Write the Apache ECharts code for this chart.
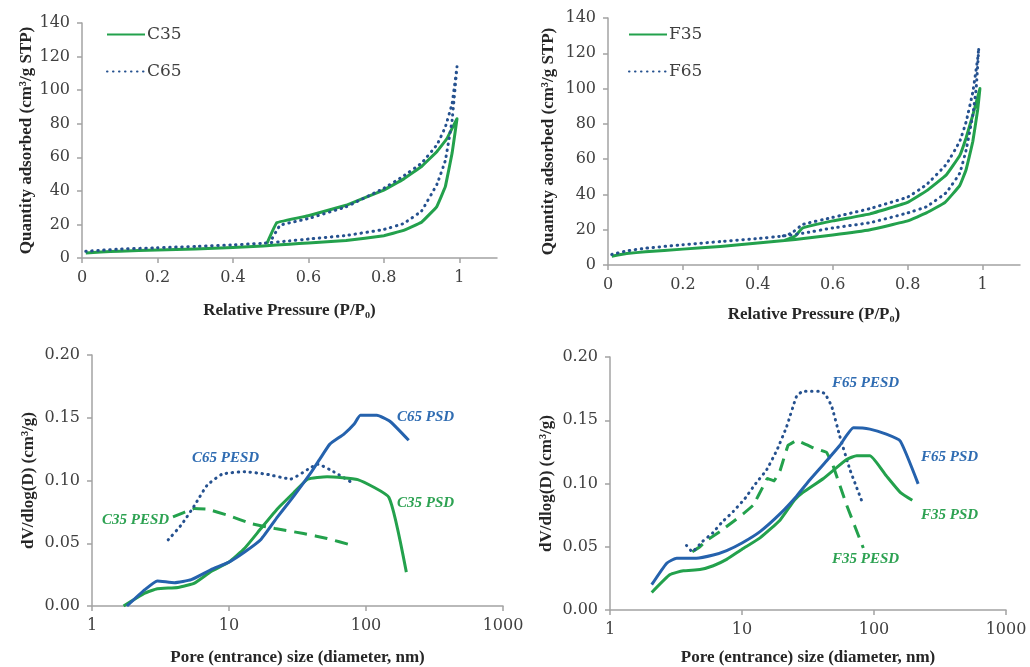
<!DOCTYPE html>
<html>
<head>
<meta charset="utf-8">
<script src="https://cdn.jsdelivr.net/npm/echarts@6/dist/echarts.min.js"></script>
<style>
html, body { margin: 0; padding: 0; background: #ffffff; }
#chart { width: 1030px; height: 667px; }
</style>
</head>
<body>
<div id="chart"></div>
<script>
// N2 isotherms: adsorption branch (rising) followed by desorption branch (returning)
const isoC35 = [
  [0.01, 3.0], [0.05, 3.6], [0.1, 4.0], [0.2, 4.8], [0.3, 5.4], [0.4, 6.3], [0.48, 7.2],
  [0.55, 8.2], [0.6, 9.0], [0.7, 10.4], [0.8, 13.2], [0.85, 16.3], [0.9, 21.3], [0.94, 30.5],
  [0.963, 42.5], [0.981, 62.5], [0.994, 83],
  [0.967, 71], [0.941, 63.5], [0.9, 54.5], [0.852, 47], [0.8, 40.5], [0.7, 31.4],
  [0.6, 25.2], [0.516, 21], [0.49, 8.6]
];
const isoC65 = [
  [0.01, 4.0], [0.05, 4.6], [0.1, 5.3], [0.2, 6.1], [0.3, 6.9], [0.4, 7.8], [0.48, 8.8],
  [0.55, 10.2], [0.6, 11.3], [0.7, 13.4], [0.8, 17], [0.852, 20.5], [0.9, 28], [0.941, 44],
  [0.963, 58], [0.981, 82], [0.994, 114],
  [0.981, 92], [0.963, 78], [0.941, 67.5], [0.9, 56.5], [0.852, 48.8], [0.8, 41.5],
  [0.7, 30.5], [0.6, 23.5], [0.525, 19.5], [0.5, 10]
];
const isoF35 = [
  [0.01, 5], [0.05, 6.5], [0.1, 7.5], [0.2, 9], [0.3, 10.5], [0.4, 12.5], [0.5, 14.5],
  [0.6, 17], [0.7, 20], [0.8, 25], [0.85, 29.5], [0.9, 35.5], [0.939, 45], [0.956, 54],
  [0.974, 70], [0.987, 88], [0.993, 100],
  [0.974, 85], [0.956, 72], [0.939, 62], [0.903, 51], [0.85, 42], [0.8, 35.5], [0.7, 29],
  [0.6, 25], [0.52, 21], [0.5, 16.5], [0.47, 13.8]
];
const isoF65 = [
  [0.01, 6], [0.05, 8], [0.1, 9.5], [0.2, 11.5], [0.3, 13.3], [0.4, 15], [0.47, 16.5],
  [0.52, 18], [0.6, 21], [0.7, 24], [0.8, 29.5], [0.85, 33], [0.903, 41], [0.939, 52],
  [0.956, 65], [0.974, 85], [0.983, 100], [0.99, 123],
  [0.987, 117], [0.974, 98], [0.956, 81], [0.939, 70], [0.903, 57], [0.85, 45.5],
  [0.8, 38.5], [0.7, 32], [0.6, 27], [0.52, 23], [0.49, 18], [0.46, 16]
];

// Pore size distributions [diameter nm, dV/dlog(D)]
const psdC35 = [
  [1.7, 0], [2.43, 0.0103], [3.0, 0.0137], [4.24, 0.0148], [5.6, 0.0183], [7.4, 0.0275],
  [10, 0.035], [13, 0.046], [17.1, 0.0617], [22.6, 0.0775], [29.9, 0.0907], [37.5, 0.101],
  [52, 0.103], [87, 0.1007], [147, 0.0865], [197, 0.027]
];
const psdC65 = [
  [1.8, 0], [2.43, 0.013], [3.0, 0.020], [4.0, 0.0186], [5.3, 0.021], [7.4, 0.029],
  [10, 0.035], [13, 0.043], [17.1, 0.053], [22.6, 0.071], [29.9, 0.088], [39.5, 0.106],
  [46, 0.117], [54.5, 0.129], [69, 0.137], [82, 0.145], [91, 0.152], [120, 0.152],
  [150, 0.147], [205, 0.132]
];
const pesdC35 = [
  [3.9, 0.071], [5.6, 0.0777], [6.9, 0.0772], [9.9, 0.0722], [14.5, 0.0656],
  [21.7, 0.0617], [35, 0.0578], [52, 0.0538], [78.5, 0.0485]
];
const pesdC65 = [
  [3.6, 0.0527], [4.5, 0.0648], [5.6, 0.0801], [6.9, 0.096], [8.9, 0.105], [13, 0.107],
  [18.8, 0.105], [28.2, 0.1012], [37.5, 0.1088], [44.4, 0.113], [58, 0.107], [82, 0.0973]
];
const psdF35 = [
  [2.07, 0.0138], [2.85, 0.028], [3.6, 0.031], [4.8, 0.032], [6.06, 0.035], [7.65, 0.04],
  [10, 0.048], [13.7, 0.057], [19.4, 0.071], [25, 0.087], [29, 0.093], [41.4, 0.104],
  [62, 0.119], [74, 0.122], [93, 0.122], [124, 0.106], [158, 0.093], [195, 0.0867]
];
const psdF65 = [
  [2.07, 0.020], [2.69, 0.037], [3.2, 0.041], [4.5, 0.041], [6.06, 0.0435], [7.65, 0.047],
  [10, 0.053], [13.7, 0.062], [19.4, 0.076], [25.9, 0.09], [32.7, 0.103], [43.8, 0.118],
  [55, 0.13], [69.9, 0.144], [93, 0.143], [124, 0.139], [158, 0.1336], [216, 0.0997]
];
const pesdF35 = [
  [4.2, 0.046], [4.8, 0.05], [5.4, 0.055], [6.8, 0.062], [8.6, 0.07], [10.2, 0.076],
  [12.2, 0.083], [14.5, 0.098], [15.5, 0.104], [17.5, 0.102], [19.4, 0.11], [22.3, 0.13],
  [25.9, 0.134], [35, 0.128], [43.8, 0.1245], [49, 0.114], [62, 0.083], [83, 0.049]
];
const pesdF65 = [
  [3.8, 0.051], [4.2, 0.046], [5, 0.054], [6, 0.061], [7, 0.069], [8.6, 0.078],
  [10.5, 0.088], [12.5, 0.099], [15.4, 0.111], [18.5, 0.127], [21.8, 0.145], [25.9, 0.169],
  [29, 0.173], [32.7, 0.173], [38, 0.173], [42.5, 0.171], [47.8, 0.161], [55, 0.1375],
  [65.7, 0.111], [83, 0.083]
];

// Tick values
const pressureTicks = [0, 0.2, 0.4, 0.6, 0.8, 1];
const quantityTicks = [0, 20, 40, 60, 80, 100, 120, 140];
const sizeTicks = [1, 10, 100, 1000];
const dvTicks = [0, 0.05, 0.10, 0.15, 0.20];

const GREEN = '#23a14c';
const BLUE = '#2562ad';
const NAVY = '#25518f';
const AXIS = '#a3a3a3';
const LABEL = '#404040';
const TICK_FONT = 'DejaVu Serif';
const TITLE_FONT = 'Liberation Serif';

const DOT = [0.5, 5.5];
const DASH = [13, 8];

const grids = [
  { left: 82, top: 23, width: 415, height: 235 },
  { left: 608, top: 18, width: 412, height: 247 },
  { left: 92, top: 355, width: 411, height: 253 },
  { left: 610, top: 357, width: 396, height: 256 }
];

function baseAxis() {
  return {
    axisLine: { show: true, lineStyle: { color: AXIS, width: 1.5 } },
    axisTick: { show: true, inside: false, length: 5, lineStyle: { color: AXIS, width: 1.5 } },
    splitLine: { show: false },
    minorTick: { show: false },
    axisLabel: { color: LABEL, fontFamily: TICK_FONT, fontSize: 16, margin: 12 },
    nameLocation: 'middle',
    nameTextStyle: { color: '#262626', fontFamily: TITLE_FONT, fontWeight: 'bold', fontSize: 17 }
  };
}

function pressureAxis(idx, gap) {
  const a = baseAxis();
  return Object.assign(a, {
    gridIndex: idx, type: 'value', min: 0, max: 1.1, interval: 0.2,
    name: 'Relative Pressure (P/P\u2080)', nameGap: gap,
    axisTick: Object.assign(a.axisTick, { customValues: pressureTicks }),
    axisLabel: Object.assign(a.axisLabel, { customValues: pressureTicks,
      formatter: v => String(+v.toFixed(1)) })
  });
}
function quantityAxis(idx, gap) {
  const a = baseAxis();
  return Object.assign(a, {
    gridIndex: idx, type: 'value', min: 0, max: 140, interval: 20,
    name: 'Quantity adsorbed (cm\u00b3/g STP)', nameGap: gap,
    axisTick: Object.assign(a.axisTick, { customValues: quantityTicks }),
    axisLabel: Object.assign(a.axisLabel, { customValues: quantityTicks })
  });
}
function sizeAxis(idx, gap) {
  const a = baseAxis();
  return Object.assign(a, {
    gridIndex: idx, type: 'log', logBase: 10, min: 1, max: 1000,
    name: 'Pore (entrance) size (diameter, nm)', nameGap: gap,
    axisTick: Object.assign(a.axisTick, { customValues: sizeTicks }),
    axisLabel: Object.assign(a.axisLabel, { customValues: sizeTicks, formatter: v => String(Math.round(v)) })
  });
}
function dvAxis(idx, gap) {
  const a = baseAxis();
  return Object.assign(a, {
    gridIndex: idx, type: 'value', min: 0, max: 0.2, interval: 0.05,
    name: 'dV/dlog(D) (cm\u00b3/g)', nameGap: gap,
    axisTick: Object.assign(a.axisTick, { customValues: dvTicks }),
    axisLabel: Object.assign(a.axisLabel, { customValues: dvTicks, formatter: v => v.toFixed(2) })
  });
}

function line(name, data, grid, color, type, smooth) {
  return {
    name: name, type: 'line', data: data,
    xAxisIndex: grid, yAxisIndex: grid,
    symbol: 'none', smooth: smooth,
    lineStyle: { color: color, width: 3, type: type, cap: type === DOT ? 'round' : 'butt', join: 'round' },
    itemStyle: { color: color },
    z: 3
  };
}

function note(text, x, y, color) {
  return {
    type: 'text', x: x, y: y, z: 10,
    style: { text: text, fill: color, font: 'italic bold 15px "Liberation Serif"', verticalAlign: 'middle' }
  };
}

const legendText = { color: LABEL, fontFamily: TICK_FONT, fontSize: 17, padding: [0, 0, 0, -3] };
const legendBase = {
  orient: 'vertical', top: 26, itemWidth: 38, itemHeight: 14, itemGap: 20, padding: 0,
  textStyle: legendText, selectedMode: false,
  itemStyle: { color: 'rgba(0,0,0,0)', borderWidth: 0, opacity: 0 }
};

const option = {
  animation: false,
  backgroundColor: '#ffffff',
  grid: grids,
  xAxis: [pressureAxis(0, 44), pressureAxis(1, 41), sizeAxis(2, 43), sizeAxis(3, 39)],
  yAxis: [quantityAxis(0, 47), quantityAxis(1, 51), dvAxis(2, 55), dvAxis(3, 55)],
  legend: [
    Object.assign({ data: ['C35', 'C65'], left: 106 }, legendBase),
    Object.assign({ data: ['F35', 'F65'], left: 628 }, legendBase)
  ],
  series: [
    line('C35', isoC35, 0, GREEN, 'solid', 0.05),
    line('C65', isoC65, 0, NAVY, DOT, 0.05),
    line('F35', isoF35, 1, GREEN, 'solid', 0.08),
    line('F65', isoF65, 1, NAVY, DOT, 0.08),
    line('C35 PESD', pesdC35, 2, GREEN, DASH, 0.05),
    line('C65 PESD', pesdC65, 2, NAVY, DOT, 0.15),
    line('C35 PSD', psdC35, 2, GREEN, 'solid', 0.15),
    line('C65 PSD', psdC65, 2, BLUE, 'solid', 0.15),
    line('F35 PESD', pesdF35, 3, GREEN, DASH, 0.05),
    line('F65 PESD', pesdF65, 3, NAVY, DOT, 0.1),
    line('F35 PSD', psdF35, 3, GREEN, 'solid', 0.15),
    line('F65 PSD', psdF65, 3, BLUE, 'solid', 0.15)
  ],
  graphic: [
    note('C65 PSD', 397, 417, '#2f6cb2'),
    note('C65 PESD', 192, 458, '#2f6cb2'),
    note('C35 PSD', 397, 503, '#2da252'),
    note('C35 PESD', 102, 520, '#2da252'),
    note('F65 PESD', 832, 383, '#2f6cb2'),
    note('F65 PSD', 921, 457, '#2f6cb2'),
    note('F35 PSD', 921, 515, '#2da252'),
    note('F35 PESD', 832, 559, '#2da252')
  ]
};

const chart = echarts.init(document.getElementById('chart'), null, { renderer: 'canvas' });
chart.setOption(option);
</script>
</body>
</html>
